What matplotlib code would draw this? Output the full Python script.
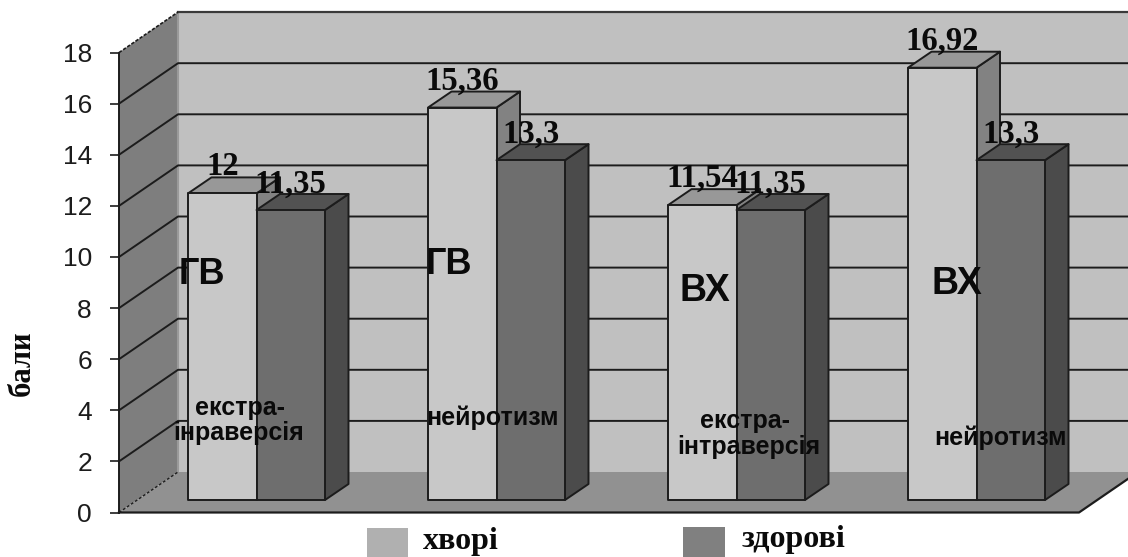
import matplotlib
matplotlib.use('Agg')
import matplotlib.pyplot as plt
from matplotlib.patches import Polygon, Rectangle

W, H = 1128, 557

# values
groups = ['ГВ', 'ГВ', 'ВХ', 'ВХ']
hvori = [12, 15.36, 11.54, 16.92]
zdorovi = [11.35, 13.3, 11.35, 13.3]
hvori_labels = ['12', '15,36', '11,54', '16,92']
zdorovi_labels = ['11,35', '13,3', '11,35', '13,3']
yticks = [0, 2, 4, 6, 8, 10, 12, 14, 16, 18]
ylabel = 'бали'
legend_names = ['хворі', 'здорові']

# scale of the drawing, one x unit is a group, one y unit a point of the scale
PX_X = 240.0
PX_Y = 25.55
X0_PX = 188.0
Y0_PX = 512.5

def dx(px):
    return px / PX_X

def dy(px):
    return px / PX_Y

fig = plt.figure(figsize=(W / 100, H / 100), dpi=100)
ax = fig.add_axes([0, 0, 1, 1])
ax.set_xlim(-X0_PX / PX_X, (W - X0_PX) / PX_X)
ax.set_ylim(-(H - Y0_PX) / PX_Y, Y0_PX / PX_Y)

wall_x = dx(119 - X0_PX)
right_x = dx(1079 - X0_PX)
depth_x = dx(59)
depth_y = dy(40.5)
top = yticks[-1]
edge = '#1c1c1c'

# walls and floor
ax.add_patch(Polygon([(wall_x + depth_x, depth_y), (right_x + depth_x, depth_y),
                      (right_x + depth_x, top + depth_y), (wall_x + depth_x, top + depth_y)],
                     fc='#c0c0c0', ec='none', zorder=1))
ax.add_patch(Polygon([(wall_x, 0), (wall_x + depth_x, depth_y),
                      (wall_x + depth_x, top + depth_y), (wall_x, top)],
                     fc='#7e7e7e', ec='none', zorder=1))
ax.plot([wall_x + depth_x] * 2, [depth_y, top + depth_y], color='#9a9a9a', lw=1.5, zorder=1.5)
ax.add_patch(Polygon([(wall_x, 0), (right_x, 0), (right_x + depth_x, depth_y), (wall_x + depth_x, depth_y)],
                     fc='#919191', ec='none', zorder=2))

# grid lines run along the side wall and the back wall
for v in yticks[1:-1]:
    ax.plot([wall_x, wall_x + depth_x, right_x + depth_x],
            [v, v + depth_y, v + depth_y], color=edge, lw=1.4, zorder=1.6)
ax.plot([wall_x + depth_x, right_x + depth_x], [top + depth_y] * 2, color='#3a3a3a', lw=1.6, zorder=1.6)
ax.plot([wall_x, wall_x + depth_x], [top, top + depth_y], color=edge, lw=1.2, ls=(0, (2, 1)), zorder=1.6)
ax.plot([wall_x, wall_x + depth_x], [0, depth_y], color=edge, lw=1.0, ls=(0, (2, 1.5)), zorder=2.1)
ax.plot([wall_x, right_x, right_x + depth_x], [0, 0, depth_y], color=edge, lw=1.6, zorder=2.1)


def bar3d(x, value, colors, zorder):
    w = dx(68.5)
    ddx = dx(23.5)
    ddy = dy(16)
    base = dy(12.5)
    front, roof, side = colors
    kw = dict(ec=edge, lw=1.4, zorder=zorder, joinstyle='round')
    ax.add_patch(Polygon([(x + w, base), (x + w + ddx, base + ddy),
                          (x + w + ddx, value + base + ddy), (x + w, value + base)], fc=side, **kw))
    ax.add_patch(Polygon([(x, value + base), (x + w, value + base),
                          (x + w + ddx, value + base + ddy), (x + ddx, value + base + ddy)], fc=roof, **kw))
    ax.add_patch(Rectangle((x, base), w, value, fc=front, **kw))
    return x + w / 2, value + base + ddy


for i in range(len(groups)):
    w = dx(68.5)
    cx, ty = bar3d(i, hvori[i], ('#c8c8c8', '#989898', '#828282'), 3 + i)
    ax.text(cx, ty + dy(2), hvori_labels[i], ha='center', va='baseline', family='Liberation Serif',
            weight='bold', size=23.5, color='#0a0a0a', zorder=10)
    cx, ty = bar3d(i + w, zdorovi[i], ('#6e6e6e', '#525252', '#4b4b4b'), 3.5 + i)
    ax.text(cx, ty + dy(1), zdorovi_labels[i], ha='center', va='baseline', family='Liberation Serif',
            weight='bold', size=23.5, color='#0a0a0a', zorder=10)

# y axis
for s in ['top', 'right', 'bottom']:
    ax.spines[s].set_visible(False)
ax.spines['left'].set_position(('data', wall_x))
ax.spines['left'].set_bounds(0, top)
ax.spines['left'].set_color(edge)
ax.spines['left'].set_linewidth(1.4)
ax.spines['left'].set_zorder(2.2)
ax.set_xticks([])
ax.set_yticks(yticks)
ax.tick_params(axis='y', length=6.5, width=1.2, color=edge, pad=13, labelsize=19, labelcolor='#1c1c1c')
for t in ax.get_yticklabels():
    t.set_family('Liberation Sans')


def px_text(x, y, s, **kw):
    fig.text(x / W, 1 - y / H, s, ha='center', va='center', color='#0a0a0a', zorder=20, **kw)


sans = dict(family='Liberation Sans', weight='bold')
# text boxes pasted on top of the bars
for x, y, s, size in zip([202, 449, 705, 957], [275, 264, 291, 284], groups, [26, 26, 27, 27]):
    px_text(x, y, s, size=size, **sans)
px_text(240, 408, 'екстра-', size=18, **sans)
px_text(239, 433, 'інраверсія', size=18, **sans)
px_text(492, 418, 'нейротизм', size=18, **sans)
px_text(745, 421, 'екстра-', size=18, **sans)
px_text(749, 447, 'інтраверсія', size=18, **sans)
px_text(1001, 438, 'нейротизм', size=18, **sans)

px_text(22, 363, ylabel, rotation=90, size=22, family='Liberation Serif', weight='bold')

# legend
fig.patches.append(Rectangle((367 / W, 0), 41 / W, 29 / H, transform=fig.transFigure, fc='#b0b0b0', ec='none'))
fig.patches.append(Rectangle((683 / W, 0), 42 / W, 30 / H, transform=fig.transFigure, fc='#808080', ec='none'))
px_text(461, 541, legend_names[0], size=23, family='Liberation Serif', weight='bold')
px_text(793, 539, legend_names[1], size=23, family='Liberation Serif', weight='bold')

fig.savefig('out.png', dpi=100, facecolor='white')
